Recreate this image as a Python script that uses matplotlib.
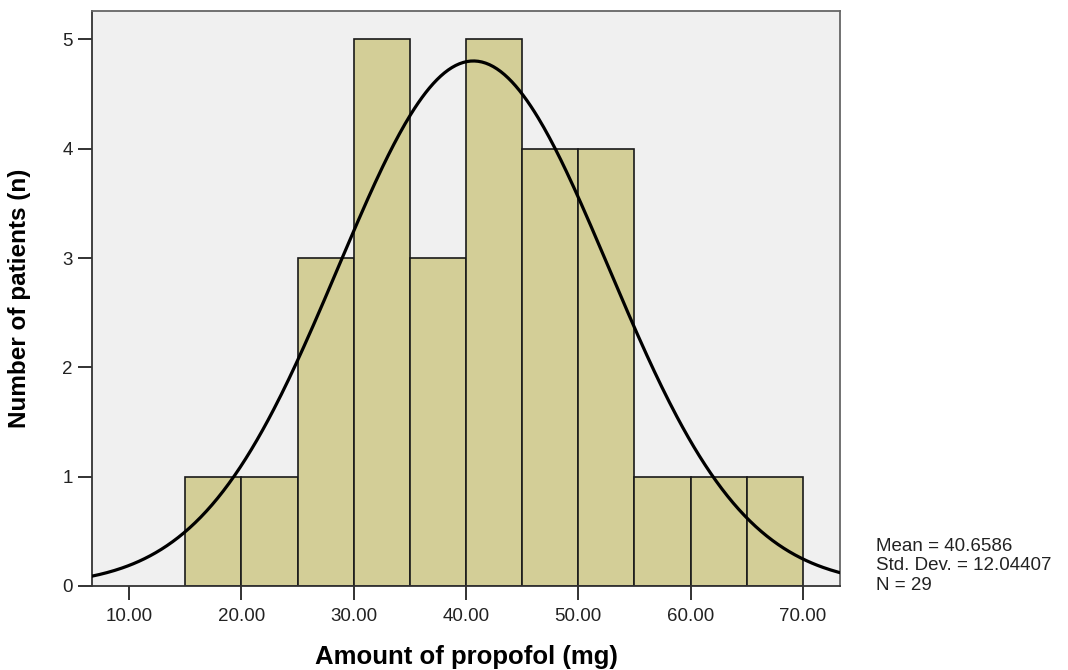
import numpy as np
import matplotlib
matplotlib.use("Agg")
import matplotlib.pyplot as plt

plt.rcParams['font.family'] = ['Liberation Sans', 'DejaVu Sans']

# histogram bins (mg) and counts
bin_edges = [15, 20, 25, 30, 35, 40, 45, 50, 55, 60, 65, 70]
counts = [1, 1, 3, 5, 3, 5, 4, 4, 1, 1, 1]
mean = 40.6586
sd = 12.04407
n = 29
xticks = [10, 20, 30, 40, 50, 60, 70]
yticks = [0, 1, 2, 3, 4, 5]

fig = plt.figure(figsize=(10.68, 6.70), dpi=100)
ax = fig.add_axes([92/1068, 1 - 586/670, (840-92)/1068, (586-11)/670])
ax.set_facecolor('#f0f0f0')

lefts = np.array(bin_edges[:-1])
widths = np.diff(bin_edges)
ax.bar(lefts, counts, width=widths, align='edge', color='#d3ce97',
       edgecolor='#1a1a1a', linewidth=1.2, zorder=2)

# normal curve scaled to counts
xs = np.linspace(6.7, 73.3, 400)
bw = widths[0]
ys = n * bw / (sd * np.sqrt(2 * np.pi)) * np.exp(-0.5 * ((xs - mean) / sd) ** 2)
ax.plot(xs, ys, color='black', linewidth=2.3, zorder=3)

ax.set_xlim(6.7, 73.3)
ax.set_ylim(0, 5.26)
ax.set_xticks(xticks)
ax.set_xticklabels([f'{v:.2f}' for v in xticks])
ax.set_yticks(yticks)
ax.tick_params(direction='out', length=10, width=1.3, color='#222222',
               labelsize=13.5, labelcolor='#222222')
ax.tick_params(axis='x', pad=6)
ax.tick_params(axis='y', pad=4)

for side in ['top', 'right']:
    ax.spines[side].set_color('#666666')
    ax.spines[side].set_linewidth(1.3)
for side in ['left', 'bottom']:
    ax.spines[side].set_color('#333333')
    ax.spines[side].set_linewidth(1.3)

ax.set_xlabel('Amount of propofol (mg)', fontsize=18.5, fontweight='bold', labelpad=14)
ax.set_ylabel('Number of patients (n)', fontsize=17.5, fontweight='bold', labelpad=22)

fig.text(876/1068, 1 - 566/670, f'Mean = {mean}\nStd. Dev. = {sd}\nN = {n}',
         fontsize=13.5, color='#222222', va='center', ha='left', linespacing=1.2)

fig.savefig('out.png', dpi=100)
